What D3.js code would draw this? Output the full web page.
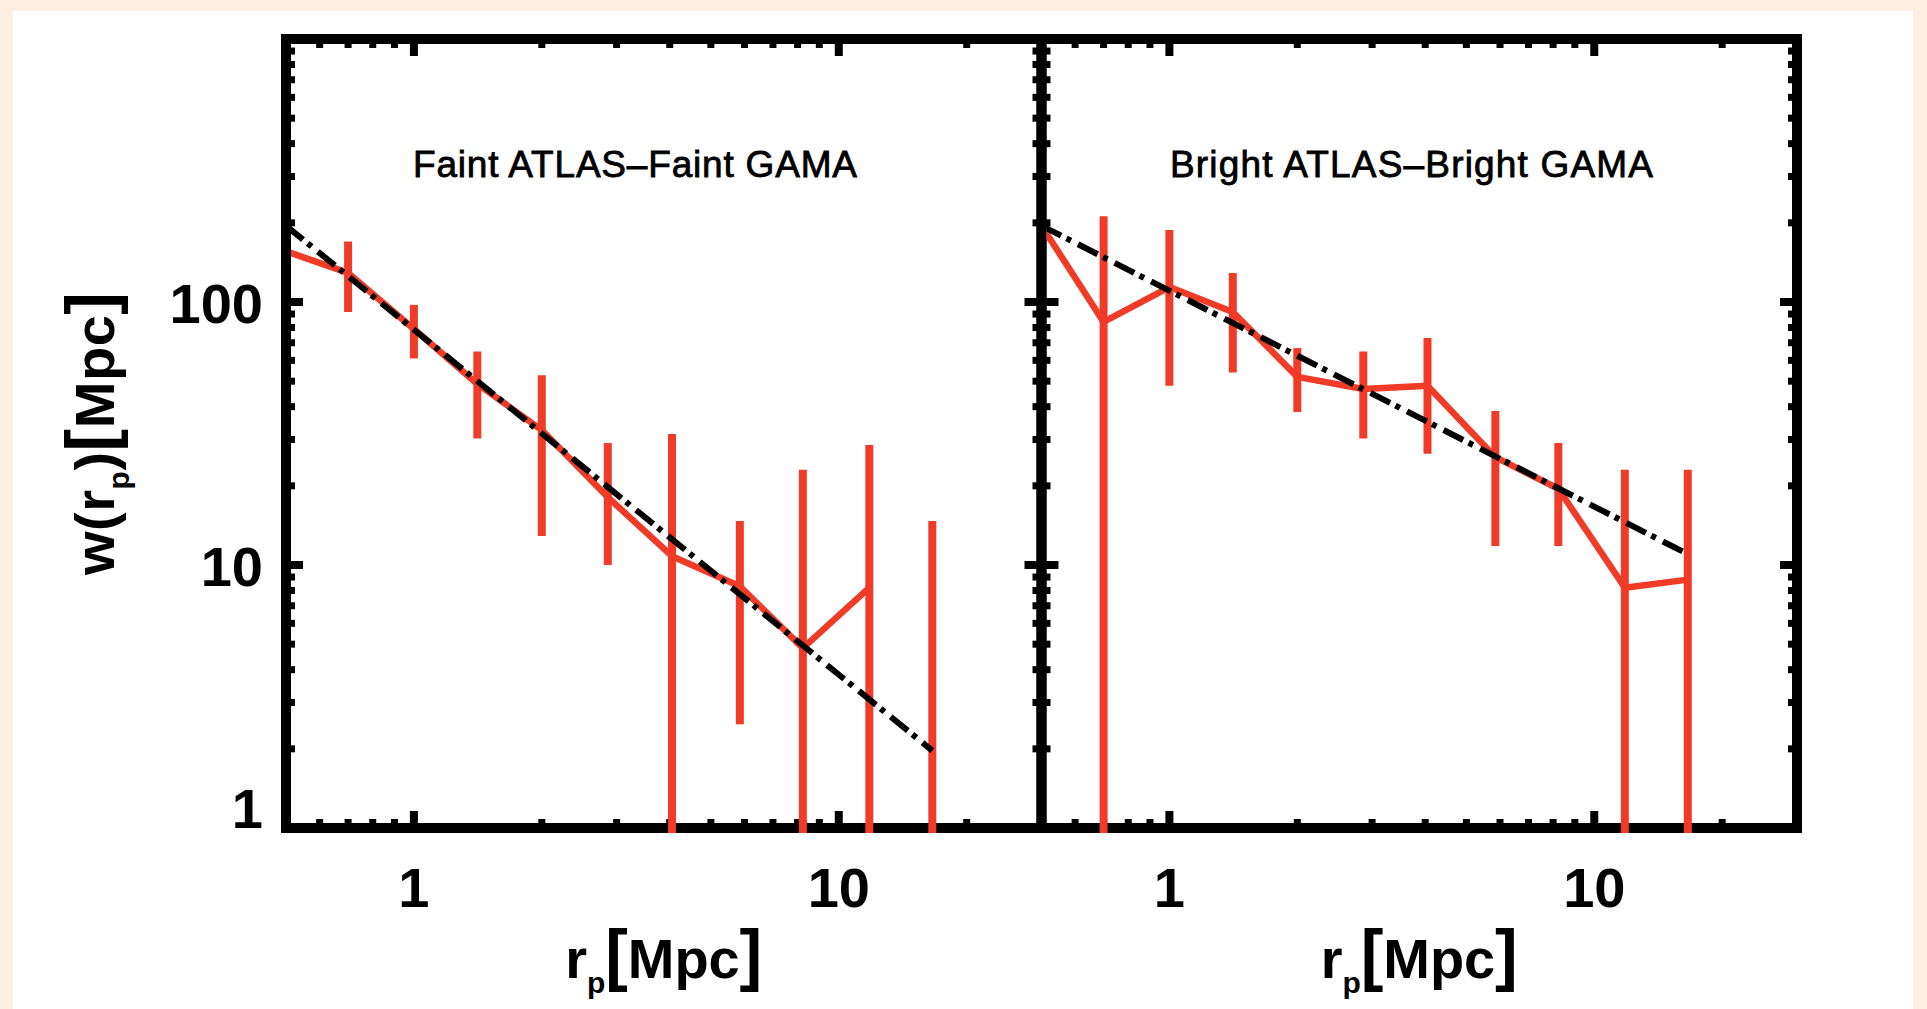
<!DOCTYPE html>
<html>
<head>
<meta charset="utf-8">
<script src="https://cdn.jsdelivr.net/npm/d3@7"></script>
<style>
  body { margin: 0; background: #fcefe2; }
  svg { display: block; }
</style>
</head>
<body>
<svg id="chart" width="1927" height="1009"></svg>
<script>
// projected separation bins (Mpc), same for both panels
var rp = [0.5, 0.7, 1.0, 1.41, 2.0, 2.86, 4.05, 5.85, 8.23, 11.8, 16.6]

// Faint ATLAS - Faint GAMA (null = no point drawn, 0 = error goes below the axis)
var faintW  = [156, 129, 79, 48.8, 32.6, 18.1, 10.8, 8.3, 4.83, 8.2, null]
var faintLo = [111, 91.6, 61, 30.3, 12.9, 10.0, 0, 2.48, 0, 0, 0]
var faintHi = [205, 170, 97.5, 64.8, 52.7, 29.1, 31.5, 14.7, 23, 28.6, 14.7]

// Bright ATLAS - Bright GAMA
var brightW  = [195, 84, 114, 91.6, 51.9, 46.7, 48, 25.7, 19.5, 8.2, 8.8]
var brightLo = [103, 0, 48, 54, 38.2, 30.3, 26.5, 11.8, 11.8, 0, 0]
var brightHi = [335, 212, 188, 129, 66.8, 64.8, 73, 38.5, 29.1, 23, 23]

// power-law fit, end points
var fitR      = [0.5, 16.6]
var faintFit  = [195, 1.97]
var brightFit = [195, 11.0]

var panelTitles = ["Faint ATLAS\u2013Faint GAMA", "Bright ATLAS\u2013Bright GAMA"]
var xTickLabels = [1, 10]
var yTickLabels = [1, 10, 100]

var red = "#ef3b28"
var svg = d3.select("#chart")

svg.append("rect")
    .attr("x", 13).attr("y", 11)
    .attr("width", 1900).attr("height", 1000)
    .attr("fill", "#ffffff")

var dims = { top: 39, bottom: 828, width: 755.5 }
var lefts = [286, 1041.5]

var panels = [
    { title: faintTitle(), w: faintW, lo: faintLo, hi: faintHi, fit: faintFit, tx: 413, tw: 444 },
    { title: panelTitles[1], w: brightW, lo: brightLo, hi: brightHi, fit: brightFit, tx: 1170, tw: 483 }
]
function faintTitle() { return panelTitles[0] }

var y = d3.scaleLog().domain([1, 1000]).range([dims.bottom, dims.top])

panels.forEach(function(p, i) {
    var x0 = lefts[i]
    var x = d3.scaleLog().domain([0.5, 30]).range([x0, x0 + dims.width])
    var x1 = x.range()[1]
    var g = svg.append("g")

    // frame
    g.append("rect")
        .attr("x", x0).attr("y", dims.top)
        .attr("width", dims.width).attr("height", dims.bottom - dims.top)
        .attr("fill", "none").attr("stroke", "black").attr("stroke-width", 10)

    var isMajor = function(v) { return Math.abs(Math.log10(v) - Math.round(Math.log10(v))) < 1e-6 }
    var xt = x.ticks().filter(function(v) { return v > 0.5 && v < 30 })
    var yt = y.ticks().filter(function(v) { return v > 1 && v < 1000 })

    var ticks = g.append("g").attr("stroke", "black")
    xt.forEach(function(v) {
        var len = isMajor(v) ? 17 : 9
        var sw = isMajor(v) ? 8 : 7
        ticks.append("line").attr("x1", x(v)).attr("x2", x(v))
            .attr("y1", dims.bottom).attr("y2", dims.bottom - len).attr("stroke-width", sw)
        ticks.append("line").attr("x1", x(v)).attr("x2", x(v))
            .attr("y1", dims.top).attr("y2", dims.top + len).attr("stroke-width", sw)
    })
    yt.forEach(function(v) {
        var len = isMajor(v) ? 17 : 9
        var sw = isMajor(v) ? 8 : 7
        ticks.append("line").attr("y1", y(v)).attr("y2", y(v))
            .attr("x1", x0).attr("x2", x0 + len).attr("stroke-width", sw)
        ticks.append("line").attr("y1", y(v)).attr("y2", y(v))
            .attr("x1", x1).attr("x2", x1 - len).attr("stroke-width", sw)
    })

    // x tick labels
    g.selectAll(".xl").data(xTickLabels).enter().append("text")
        .attr("x", function(d) { return x(d) })
        .attr("y", 907)
        .attr("text-anchor", "middle")
        .attr("font-family", "Liberation Sans, Arial, sans-serif")
        .attr("font-weight", "bold").attr("font-size", 56)
        .text(function(d) { return d })

    // x axis title
    var xt2 = g.append("text")
        .attr("x", (x0 + x1) / 2).attr("y", 978)
        .attr("text-anchor", "middle")
        .attr("font-family", "Liberation Sans, Arial, sans-serif")
        .attr("font-weight", "bold").attr("font-size", 56)
        .attr("textLength", 197).attr("lengthAdjust", "spacing")
    xt2.append("tspan").text("r")
    xt2.append("tspan").attr("font-size", 30).attr("dy", 15).text("p")
    xt2.append("tspan").attr("font-size", 68).attr("dy", -15).text("[")
    xt2.append("tspan").text("Mpc")
    xt2.append("tspan").attr("font-size", 68).text("]")

    // panel title
    g.append("text")
        .attr("x", p.tx).attr("y", 177)
        .attr("font-family", "Liberation Sans, Arial, sans-serif")
        .attr("font-size", 37)
        .attr("stroke", "black").attr("stroke-width", 0.8)
        .attr("textLength", p.tw).attr("lengthAdjust", "spacing")
        .text(p.title)

    // data, clipped to the frame (bottom edge lets the bars run through the axis line)
    var clipId = "clip" + i
    svg.append("clipPath").attr("id", clipId).append("rect")
        .attr("x", x0 + 5).attr("y", dims.top + 5)
        .attr("width", dims.width - 10).attr("height", dims.bottom - dims.top)
    var d = svg.append("g").attr("clip-path", "url(#" + clipId + ")")

    var pts = rp.map(function(r, k) { return { r: r, w: p.w[k], lo: p.lo[k], hi: p.hi[k] } })

    d.selectAll(".err").data(pts).enter().append("line")
        .attr("x1", function(e) { return x(e.r) }).attr("x2", function(e) { return x(e.r) })
        .attr("y1", function(e) { return y(e.hi) })
        .attr("y2", function(e) { return e.lo > 0 ? y(e.lo) : dims.bottom + 20 })
        .attr("stroke", red).attr("stroke-width", 8)

    var line = d3.line()
        .defined(function(e) { return e.w != null })
        .x(function(e) { return x(e.r) })
        .y(function(e) { return y(e.w) })

    d.append("path").datum(pts).attr("d", line)
        .attr("fill", "none").attr("stroke", red)
        .attr("stroke-width", 6.5).attr("stroke-linejoin", "round")

    var fitPts = fitR.map(function(r, k) { return { r: r, w: p.fit[k] } })
    d.append("path").datum(fitPts).attr("d", line)
        .attr("fill", "none").attr("stroke", "black")
        .attr("stroke-width", 6).attr("stroke-dasharray", "22 6 5 8")
})

// y tick labels and title (left panel only)
svg.selectAll(".yl").data(yTickLabels).enter().append("text")
    .attr("x", 263)
    .attr("y", function(d) { return Math.min(y(d) + 21, dims.bottom) })
    .attr("text-anchor", "end")
    .attr("font-family", "Liberation Sans, Arial, sans-serif")
    .attr("font-weight", "bold").attr("font-size", 56)
    .text(function(d) { return d })

var yt = svg.append("text")
    .attr("transform", "translate(114," + ((dims.top + dims.bottom) / 2) + ") rotate(-90)")
    .attr("text-anchor", "middle")
    .attr("font-family", "Liberation Sans, Arial, sans-serif")
    .attr("font-weight", "bold").attr("font-size", 56)
    .attr("textLength", 283).attr("lengthAdjust", "spacing")
yt.append("tspan").text("w(r")
yt.append("tspan").attr("font-size", 30).attr("dy", 15).text("p")
yt.append("tspan").attr("dy", -15).text(")")
yt.append("tspan").attr("font-size", 68).text("[")
yt.append("tspan").text("Mpc")
yt.append("tspan").attr("font-size", 68).text("]")
</script>
</body>
</html>
